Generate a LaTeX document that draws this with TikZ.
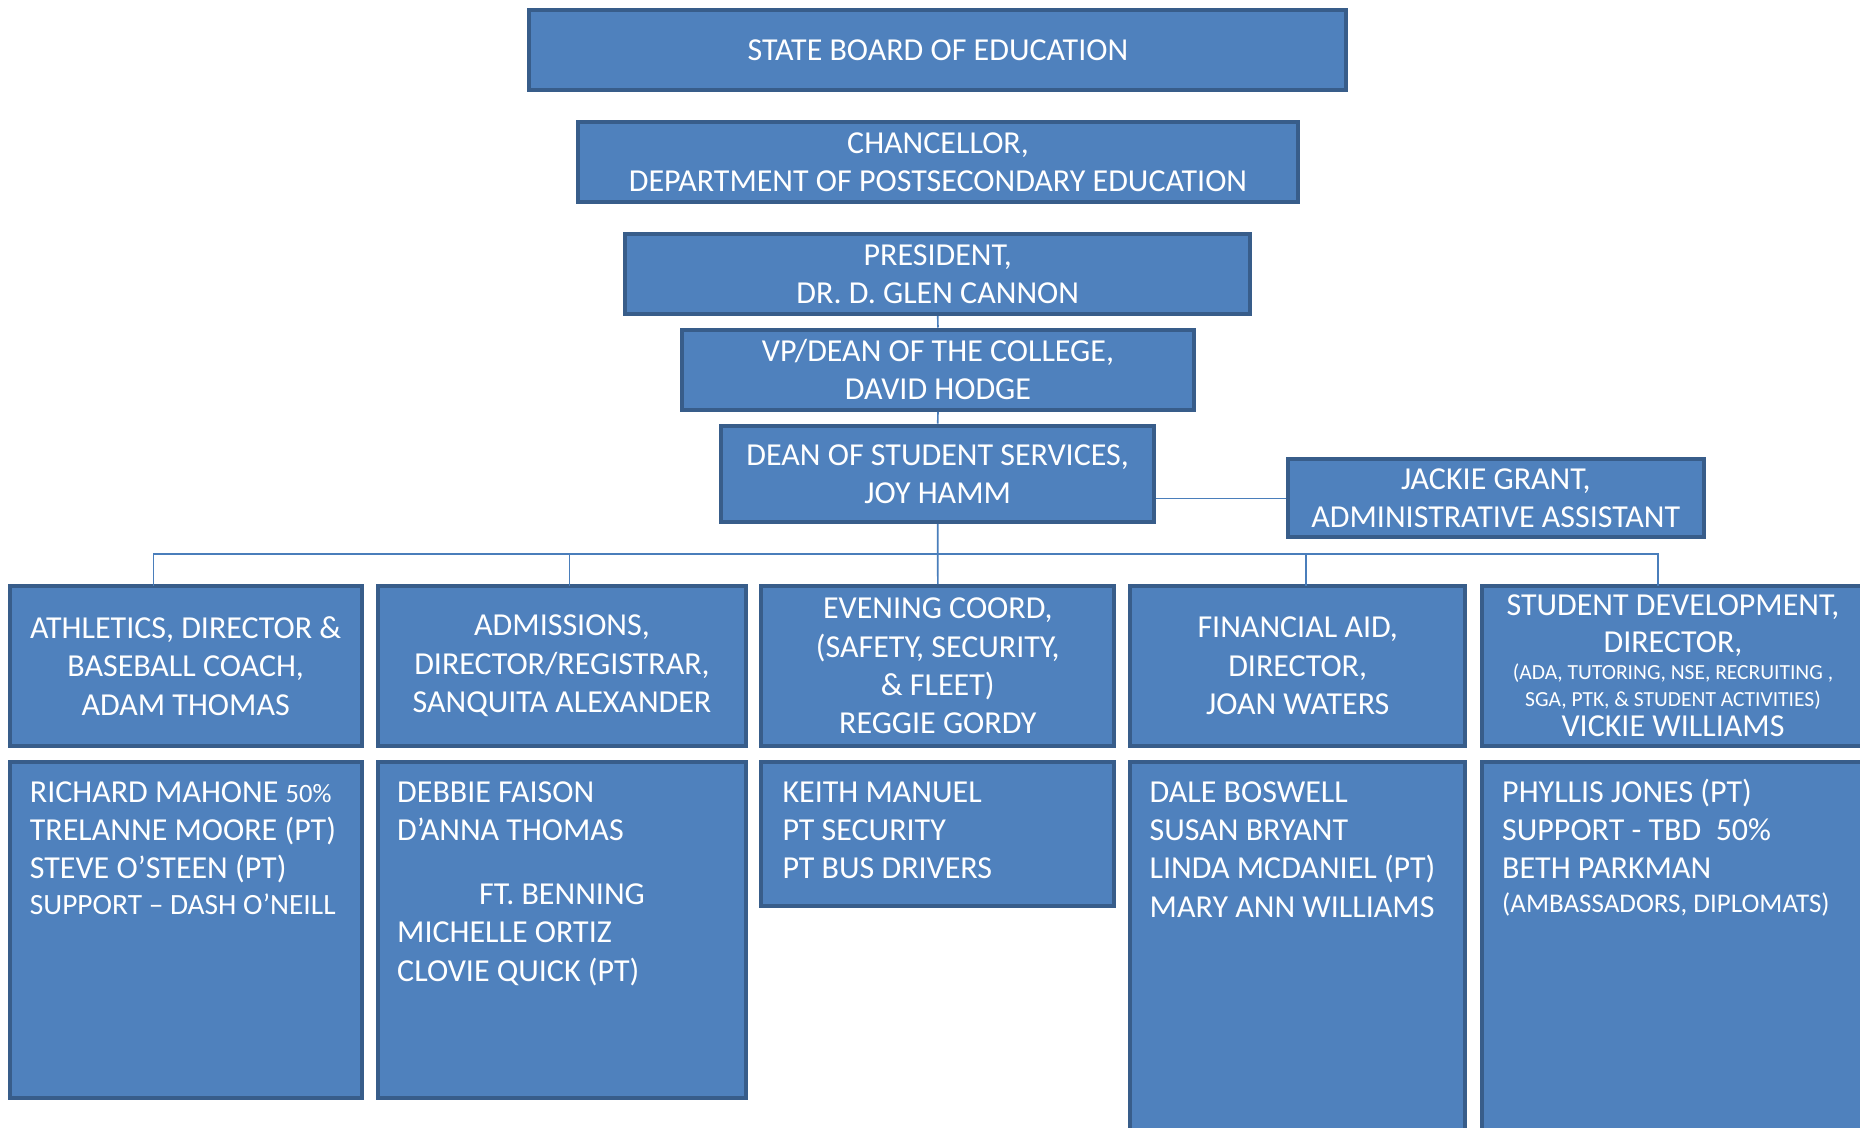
\documentclass[tikz,border=0pt]{standalone}
\usepackage{fontspec}
\setmainfont{Carlito}
\definecolor{boxfill}{HTML}{4F81BD}
\definecolor{boxline}{HTML}{385D8A}
\definecolor{conn}{HTML}{4A7EBB}
\newcommand{\smalltxt}{\fontsize{21.5}{26}\selectfont}
\newcommand{\midtxt}{\fontsize{26.5}{31}\selectfont}
\begin{document}
\begin{tikzpicture}[x=1pt,y=-1pt,
  box/.style={draw=boxline, fill=boxfill, line width=4pt, inner sep=0pt, text=white, align=center, font=\fontsize{32}{38.3}\selectfont},
  txt/.style={inner sep=0pt, text=white, align=left, anchor=north west, font=\fontsize{32}{38.3}\selectfont},
  link/.style={draw=conn, line width=1.6pt}]
\useasboundingbox (0,0) rectangle (1860,1127);
\clip (0,0) rectangle (1860,1127);

% top chain
\node[box, minimum width=817pt, minimum height=80.7pt] (sbe) at (937.9,50) {STATE BOARD OF EDUCATION};
\node[box, minimum width=720.5pt, minimum height=80pt] (chanc) at (938,162) {CHANCELLOR,\\DEPARTMENT OF POSTSECONDARY EDUCATION};
\node[box, minimum width=624.5pt, minimum height=80.3pt] (pres) at (937.7,274) {PRESIDENT,\\DR. D. GLEN CANNON};
\node[box, minimum width=512pt, minimum height=80.4pt] (vp) at (938,369.7) {VP/DEAN OF THE COLLEGE,\\DAVID HODGE};
\node[box, minimum width=432.5pt, minimum height=96.6pt] (dean) at (937.7,473.9) {DEAN OF STUDENT SERVICES,\\JOY HAMM};
\node[box, minimum width=415.5pt, minimum height=78pt] (jackie) at (1495.8,498.3) {JACKIE GRANT,\\ADMINISTRATIVE ASSISTANT};

% department heads
\node[box, minimum width=352pt, minimum height=160pt] (ath) at (185.7,666) {ATHLETICS, DIRECTOR \&\\BASEBALL COACH,\\ADAM THOMAS};
\node[box, minimum width=368pt, minimum height=160pt] (adm) at (562,666) {ADMISSIONS,\\DIRECTOR/REGISTRAR,\\SANQUITA ALEXANDER};
\node[box, minimum width=353pt, minimum height=160pt] (eve) at (937.8,666) {EVENING COORD,\\(SAFETY, SECURITY,\\\& FLEET)\\REGGIE GORDY};
\node[box, minimum width=335.4pt, minimum height=160pt] (fin) at (1297.7,666) {FINANCIAL AID,\\DIRECTOR,\\JOAN WATERS};
\node[box, minimum width=381.5pt, minimum height=160pt] (sd) at (1673,666) {STUDENT DEVELOPMENT,\\[-2pt]DIRECTOR,\\[-11pt]{\smalltxt (ADA, TUTORING, NSE, RECRUITING ,}\\[-11.6pt]{\smalltxt SGA, PTK, \& STUDENT ACTIVITIES)}\\[-7.6pt]VICKIE WILLIAMS};

% staff boxes
\node[box, minimum width=352pt, minimum height=336.5pt] (athb) at (185.7,930) {};
\node[box, minimum width=368pt, minimum height=336.5pt] (admb) at (562,930) {};
\node[box, minimum width=353pt, minimum height=144.3pt] (eveb) at (937.8,834.2) {};
\node[box, minimum width=335.4pt, minimum height=396pt] (finb) at (1297.7,960) {};
\node[box, minimum width=381.5pt, minimum height=396pt] (sdb) at (1673,960) {};

\node[txt] (atht) at (29.7,775.2) {\strut RICHARD MAHONE {\midtxt 50\%}\\TRELANNE MOORE (PT)\\STEVE O’STEEN (PT)\\[-2.3pt]{\fontsize{29.4}{35}\selectfont SUPPORT – DASH O’NEILL}};
\node[txt] (admt) at (397,775.2) {\strut DEBBIE FAISON\\D’ANNA THOMAS\\[25.7pt]\hspace{82pt}FT. BENNING\\MICHELLE ORTIZ\\CLOVIE QUICK (PT)};
\node[txt] (evet) at (782.3,775.2) {\strut KEITH MANUEL\\PT SECURITY\\PT BUS DRIVERS};
\node[txt] (fint) at (1149.5,775.2) {\strut DALE BOSWELL\\SUSAN BRYANT\\LINDA MCDANIEL (PT)\\MARY ANN WILLIAMS};
\node[txt] (sdt) at (1502,775.2) {\strut PHYLLIS JONES (PT)\\SUPPORT - TBD\ \ 50\%\\BETH PARKMAN\\[-4.3pt]{\fontsize{27}{32}\selectfont (AMBASSADORS, DIPLOMATS)}};

% connectors
\coordinate (bus) at (937.7,554);
\coordinate (athdrop) at (153.6,586);
\coordinate (admdrop) at (569.4,586);
\coordinate (findrop) at (1306,586);
\coordinate (sddrop) at (1657.7,586);
\draw[link] (pres.south) -- (vp.north);
\draw[link] (vp.south) -- (dean.north);
\draw[link] (dean.east |- jackie.west) -- (jackie.west);
\draw[link] (dean.south) -- (eve.north);
\draw[link] (dean.south |- bus) -| (athdrop);
\draw[link] (dean.south |- bus) -| (admdrop);
\draw[link] (dean.south |- bus) -| (findrop);
\draw[link] (dean.south |- bus) -| (sddrop);
\end{tikzpicture}
\end{document}
